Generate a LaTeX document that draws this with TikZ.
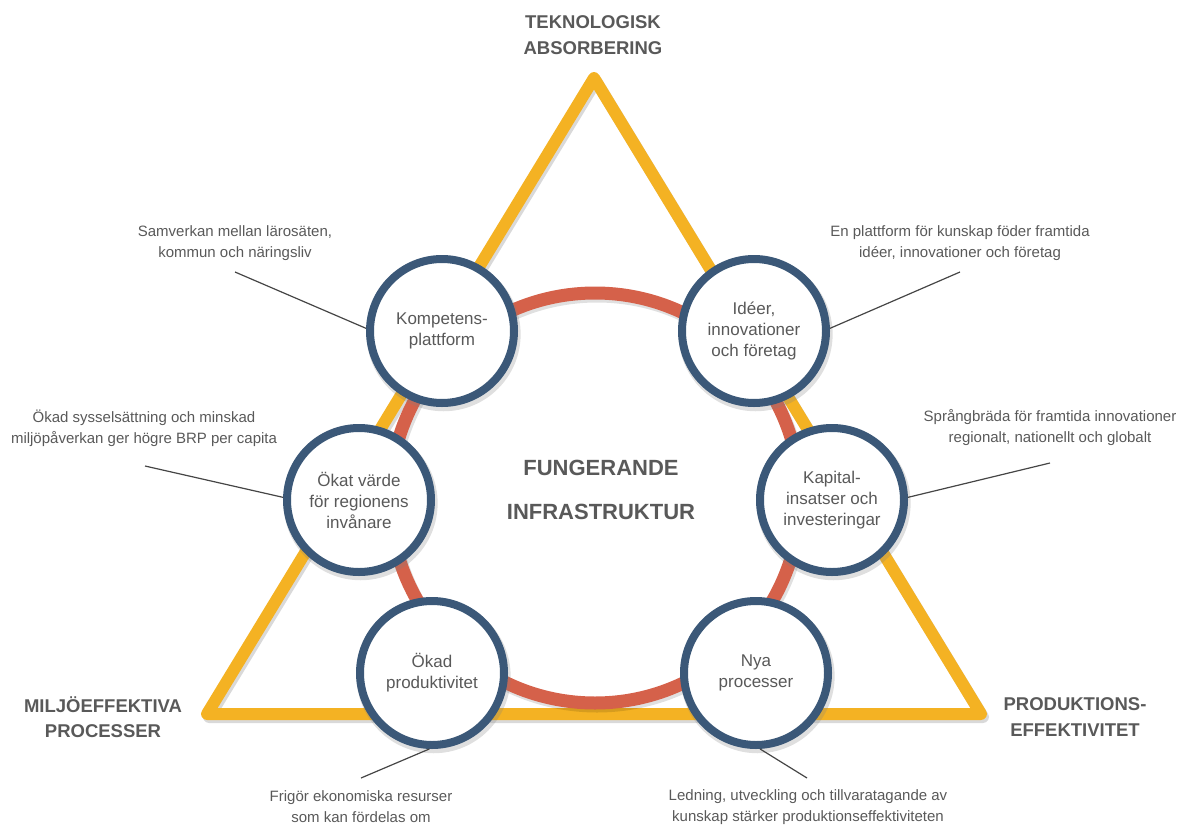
\documentclass[tikz,border=0pt]{standalone}
\usepackage{fontspec}
\setmainfont{Liberation Sans}
\usetikzlibrary{shadows}
\definecolor{trigold}{HTML}{F4B223}
\definecolor{ringred}{HTML}{D5614A}
\definecolor{hubblue}{HTML}{3B5878}
\definecolor{txtgray}{HTML}{595959}
\definecolor{leadgray}{HTML}{454545}
\tikzset{
  hub/.style={circle,draw=hubblue,line width=8pt,fill=white,minimum size=144pt,inner sep=0pt,
    align=center,text=txtgray,font=\fontsize{17}{21}\selectfont,
    drop shadow={shadow xshift=1.5pt,shadow yshift=-3pt,shadow scale=1.07,opacity=.25}},
  note/.style={align=center,text=txtgray,font=\fontsize{15}{21}\selectfont},
  corner/.style={align=center,text=txtgray,font=\bfseries\fontsize{18.5}{25.5}\selectfont},
  leader/.style={draw=leadgray,line width=1.2pt}
}
\begin{document}
\begin{tikzpicture}[x=1pt,y=-1pt]
\useasboundingbox (0,0) rectangle (1181,825);
\draw[black,opacity=.15,line width=12pt,line join=round,shift={(2,3)}] (594,78)--(207,714)--(981,714)--cycle;
\draw[trigold,line width=12pt,line join=round] (594,78)--(207,714)--(981,714)--cycle;
\draw[black,opacity=.12,line width=13pt] (597,501) circle[radius=205pt];
\draw[ringred,line width=13pt] (595,498) circle[radius=205pt];

\node[corner] (tek) at (593,35) {TEKNOLOGISK\\ABSORBERING};
\node[corner] (milj) at (103,717) {MILJÖEFFEKTIVA\\PROCESSER};
\node[corner] (prodeff) at (1075,717) {PRODUKTIONS-\\EFFEKTIVITET};
\node[align=center,text=txtgray,font=\bfseries\fontsize{22}{44}\selectfont] (infra) at (601,490) {FUNGERANDE\\INFRASTRUKTUR};

\node[note] (n1) at (235,243) {Samverkan mellan lärosäten,\\kommun och näringsliv};
\node[note] (n2) at (960,243) {En plattform för kunskap föder framtida\\idéer, innovationer och företag};
\node[note] (n3) at (144,428) {Ökad sysselsättning och minskad\\miljöpåverkan ger högre BRP per capita};
\node[note] (n4) at (1050,428) {Språngbräda för framtida innovationer\\regionalt, nationellt och globalt};
\node[note] (n5) at (361,807) {Frigör ekonomiska resurser\\som kan fördelas om};
\node[note] (n6) at (808,807) {Ledning, utveckling och tillvaratagande av\\kunskap stärker produktionseffektiviteten};

\node[hub] (komp) at (442,331) {Kompetens-\\plattform};
\node[hub] (idee) at (754,331) {Idéer,\\innovationer\\och företag};
\node[hub] (okat) at (359,500) {Ökat värde\\för regionens\\invånare};
\node[hub] (kap) at (832,500) {Kapital-\\insatser och\\investeringar};
\node[hub] (prod) at (432,673) {Ökad\\produktivitet};
\node[hub] (nya) at (756,673) {Nya\\processer};

\coordinate (l1) at (235,272);
\coordinate (l2) at (960,272);
\coordinate (l3) at (145,466);
\coordinate (l4) at (1050,463);
\coordinate (l5) at (361,778);
\coordinate (l6) at (807,778);
\foreach \c/\h/\a in {l1/komp/178,l2/idee/2,l3/okat/178,l4/kap/2,l5/prod/268,l6/nya/273}
  \draw[leader] (\c)--(\h.\a);
\end{tikzpicture}
\end{document}
